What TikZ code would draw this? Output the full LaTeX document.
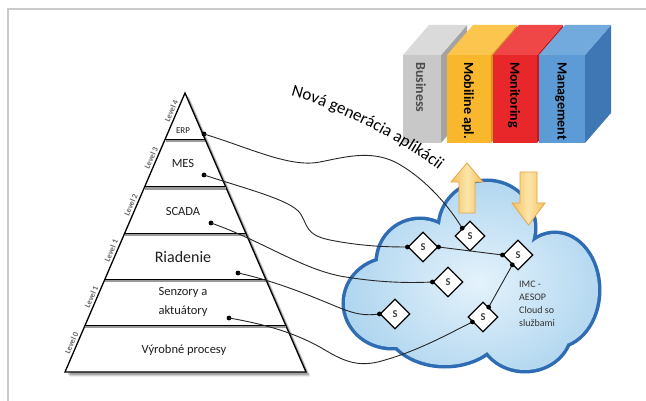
\documentclass[tikz,border=0pt]{standalone}
\usepackage{fontspec}
\setmainfont{Carlito}
\usetikzlibrary{calc,shapes.geometric,decorations.text}

\definecolor{framegray}{HTML}{CBCBCB}
\definecolor{bizfront}{HTML}{C8C8C8}
\definecolor{biztop}{HTML}{DADADA}
\definecolor{bizside}{HTML}{A3A3A3}
\definecolor{mobfront}{HTML}{F9B72E}
\definecolor{mobtop}{HTML}{FBC54E}
\definecolor{mobside}{HTML}{D7961E}
\definecolor{monfront}{HTML}{E8272A}
\definecolor{montop}{HTML}{EF4747}
\definecolor{monside}{HTML}{BE1B1E}
\definecolor{mgmfront}{HTML}{5C9BD6}
\definecolor{mgmtop}{HTML}{72AADE}
\definecolor{mgmside}{HTML}{3F76B4}
\definecolor{cloudedge}{HTML}{2E6CB3}
\definecolor{cloudin}{HTML}{E4F2FB}
\definecolor{cloudout}{HTML}{82BDE5}
\definecolor{arrowfill}{HTML}{F4C25C}
\definecolor{arrowlight}{HTML}{FCE5AA}
\definecolor{arrowedge}{HTML}{E6A445}

% one 3D application block: left x, right x, front/top/side colours, label, label colour, node name
\newcommand\appblock[8]{%
  \fill[#5] (#2,55) -- (#2+26,25) -- (#2+26,113) -- (#2,143) -- cycle;
  \fill[#4] (#1,55) -- (#2,55) -- (#2+26,25) -- (#1+26,25) -- cycle;
  \fill[#3] (#1,55) rectangle (#2,143);
  \node[blocktext, text=#7] (#8) at ({(#1+#2)/2-1},62) {#6};
}

% the cloud as a union of ellipses
\newcommand\cloudpath{(392,303) ellipse (47 and 44) (420,262) ellipse (42 and 42)
  (487,228) ellipse (47 and 46) (555,290) ellipse (43 and 56) (525,330) ellipse (45 and 40)
  (445,320) ellipse (60 and 45) (480,290) ellipse (75 and 55)}

\begin{document}
\begin{tikzpicture}[x=1pt,y=-1pt,
  pdot/.style={circle, fill=black, inner sep=0pt, minimum size=4.8pt},
  wire/.style={draw=black!85, line width=0.9pt},
  sbox/.style={diamond, aspect=1, draw=black, fill=white, line width=1.1pt,
    minimum width=30pt, minimum height=30pt, inner sep=0pt,
    font=\bfseries\fontsize{10.5}{11}\selectfont, text=black!75},
  tierlbl/.style={font=\fontsize{12.5}{19}\selectfont, text=black!88, align=center},
  lvl/.style={font=\bfseries\fontsize{8}{8}\selectfont, text=black!60, rotate=66.7,
    anchor=south, inner sep=2.5pt},
  blocktext/.style={font=\bfseries\fontsize{14}{14}\selectfont, rotate=-90, anchor=west,
    inner sep=0pt},
  bandline/.style={line width=1.1pt, draw=black},
  bandshade/.style={line width=2.4pt, draw=black!40},
  blockarrow/.style={left color=arrowfill, right color=arrowfill, middle color=arrowlight,
    draw=arrowedge, line width=0.8pt}
]
\useasboundingbox (0,0) rectangle (646,401);
\fill[white] (0,0) rectangle (646,401);
\draw[framegray, line width=1.6pt] (8,401) -- (8,9) -- (646,9);

% application blocks
\appblock{403}{441}{bizfront}{biztop}{bizside}{Business}{black!70}{business}
\appblock{447}{491}{mobfront}{mobtop}{mobside}{Mobiline apl.}{black}{mobile}
\appblock{493}{537}{monfront}{montop}{monside}{Monitoring}{black}{monitor}
\appblock{539}{585}{mgmfront}{mgmtop}{mgmside}{Management}{black}{manage}

% caption bending down towards the cloud
\path[decorate, decoration={text along path, text align=center,
  text={|\fontsize{17}{17}\selectfont|Nová generácia aplikácii}}]
  (283,94) .. controls (328,103.5) and (405,142) .. (445,175);

% cloud
\draw[cloudedge, line width=7pt] \cloudpath;
\begin{scope}
  \clip \cloudpath;
  \shade[inner color=cloudin, outer color=cloudout] (478,282) ellipse (250 and 200);
\end{scope}

% up and down arrows
\shadedraw[blockarrow] (459,213) -- (459,182) -- (451,182) -- (467,163) -- (483,182)
  -- (475,182) -- (475,213) -- cycle;
\shadedraw[blockarrow] (520,172) -- (537,172) -- (537,203) -- (545,203) -- (528.5,225)
  -- (512,203) -- (520,203) -- cycle;

% automation pyramid with a soft shadow
\coordinate (apex) at (185,93);
\coordinate (baseL) at (65,372);
\coordinate (baseR) at (306,372);
\foreach \s/\o in {4.5/0.10, 3.5/0.14, 2.5/0.18}
  \fill[black, opacity=\o] ($(baseL)+(\s,\s)$) -- ($(apex)+(\s,\s)$) -- ($(baseR)+(\s,\s)$) -- cycle;
\filldraw[fill=white, draw=black, line width=1.3pt] (baseL) -- (apex) -- (baseR) -- cycle;
\foreach \t in {0.166,0.336,0.503,0.668,0.834} {
  \draw[bandshade] ($(apex)!\t!(baseL)+(0.5,1.6)$) -- ($(apex)!\t!(baseR)+(0,1.6)$);
  \draw[bandline] ($(apex)!\t!(baseL)$) -- ($(apex)!\t!(baseR)$);
}
\node[tierlbl, font=\fontsize{9}{9}\selectfont] (erp) at (183,131) {ERP};
\node[tierlbl] (mes) at (183,163) {MES};
\node[tierlbl] (scada) at (183,211) {SCADA};
\node[tierlbl, font=\fontsize{16}{16}\selectfont] (riadenie) at (183,257) {Riadenie};
\node[tierlbl] (senzory) at (183,302) {Senzory a\\aktuátory};
\node[tierlbl] (vyroba) at (184,350) {Výrobné procesy};
\foreach \t/\lv [count=\i] in {0.072/4, 0.240/3, 0.409/2, 0.573/1, 0.738/1, 0.903/0}
  \node[lvl] (level\i) at ($(apex)!\t!(baseL)$) {Level \lv};

% service nodes in the cloud
\node[sbox] (s1) at (470,236) {S};
\node[sbox] (s2) at (423,247) {S};
\node[sbox] (s3) at (518,255) {S};
\node[sbox] (s4) at (448,282) {S};
\node[sbox] (s5) at (395,314) {S};
\node[sbox] (s6) at (483,317) {S};

% pyramid end points
\node[pdot] (erpd) at (204,134) {};
\node[pdot] (mesd) at (204,175) {};
\node[pdot] (scadad) at (211,223) {};
\node[pdot] (riadd) at (238,273) {};
\node[pdot] (senzd) at (229,318) {};

% connectors
\draw[wire] (erpd.center) .. controls (250,148) and (290,168) .. (320,162)
  .. controls (345,157) and (370,150) .. (395,162)
  .. controls (420,175) and (445,200) .. (s1.north west);
\draw[wire] (mesd.center) .. controls (250,190) and (290,200) .. (300,213)
  .. controls (308,225) and (305,235) .. (330,240)
  .. controls (360,246) and (385,247) .. (s2.west);
\draw[wire] (scadad.center) .. controls (260,240) and (300,268) .. (340,276)
  .. controls (380,283) and (410,283) .. (s4.west);
\draw[wire] (riadd.center) .. controls (280,282) and (320,300) .. (340,308)
  .. controls (355,314) and (365,316) .. (s5.west);
\draw[wire] (senzd.center) .. controls (270,325) and (300,335) .. (325,350)
  .. controls (345,362) and (360,368) .. (385,360)
  .. controls (420,350) and (450,333) .. (s6.205);
\draw[wire] (s2.east) -- (s3.west);
\draw[wire] (s3.240) -- (s6.60);

% contact dots on the service nodes
\node[pdot] (d1) at (s1.north west) {};
\node[pdot] (d2) at (s2.west) {};
\node[pdot] (d3) at (s2.east) {};
\node[pdot] (d4) at (s3.west) {};
\node[pdot] (d5) at (s3.240) {};
\node[pdot] (d6) at (s4.west) {};
\node[pdot] (d7) at (s5.west) {};
\node[pdot] (d8) at (s6.60) {};
\node[pdot] (d9) at (s6.205) {};

\node[anchor=north west, align=left, font=\fontsize{10}{13}\selectfont, text=black!80,
  inner sep=0pt] (imc) at (519,281) {IMC -\\AESOP\\Cloud so\\službami};
\end{tikzpicture}
\end{document}
